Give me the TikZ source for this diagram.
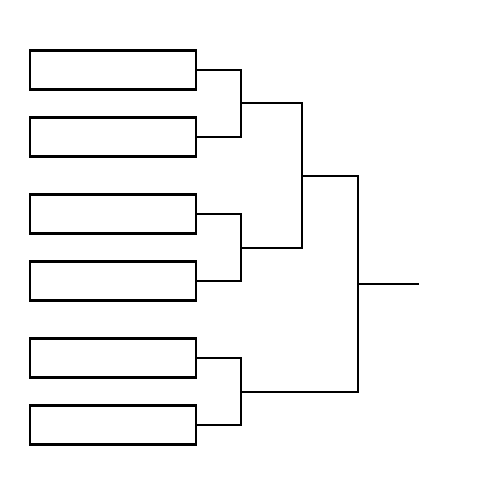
\documentclass[tikz,border=0pt]{standalone}
\usepackage{tikz}
\usetikzlibrary{positioning}

\begin{document}
\begin{tikzpicture}[x=1pt,y=-1pt,line width=2pt,
  entry/.style={rectangle,draw,line width=2.8pt,minimum width=166pt,minimum height=39pt,inner sep=0pt}]

  \useasboundingbox (0,0) rectangle (500,500);

  \node[entry] (e1) at (113,70) {};
  \node[entry] (e2) at (113,137) {};
  \node[entry] (e3) at (113,214) {};
  \node[entry] (e4) at (113,281) {};
  \node[entry] (e5) at (113,358) {};
  \node[entry] (e6) at (113,425) {};

  \coordinate (j1) at (241,103.5);
  \coordinate (j2) at (241,247.5);
  \coordinate (j3) at (241,391.5);
  \coordinate (k1) at (302,175.5);
  \coordinate (k2) at (358,283.5);
  \coordinate (win) at (419,283.5);

  % first round
  \draw (e1.east) -| (j1) |- (e2.east);
  \draw (e3.east) -| (j2) |- (e4.east);
  \draw (e5.east) -| (j3) |- (e6.east);

  % second round
  \draw (j1) -| (k1) |- (j2);
  \draw (k1) -| (k2) |- (j3);

  \draw (k2) -- (win);
\end{tikzpicture}
\end{document}
